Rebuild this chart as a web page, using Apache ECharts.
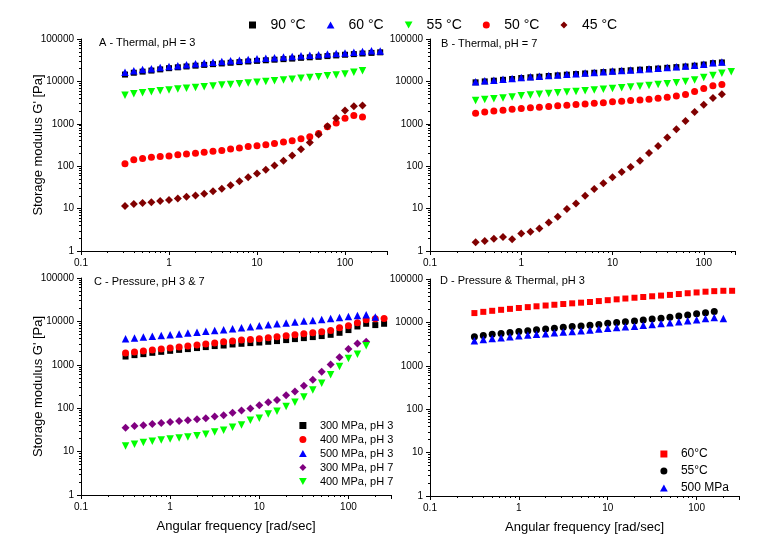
<!DOCTYPE html>
<html><head><meta charset="utf-8">
<script src="https://cdn.jsdelivr.net/npm/echarts@6/dist/echarts.min.js"></script>
<style>html,body{margin:0;padding:0;background:#fff}#c{width:774px;height:550px}</style>
</head><body><div id="c"></div>
<script>
// Angular frequency points [rad/sec]
const freq = [0.316, 0.398, 0.501, 0.631, 0.794, 1, 1.26, 1.58, 2, 2.51, 3.16, 3.98, 5.01, 6.31, 7.94, 10, 12.6, 15.8, 20, 25.1, 31.6, 39.8, 50.1, 63.1, 79.4, 100, 126, 158, 200, 251];

// Panel A - Thermal, pH = 3
const A_90 = [14500, 16000, 17000, 18000, 19200, 20500, 21500, 22500, 23500, 24500, 25500, 26500, 27500, 28500, 29500, 30500, 31500, 32500, 33500, 34500, 36000, 37000, 38000, 39500, 41000, 42500, 44000, 45500, 47000, 48500];
const A_60 = [16500, 17800, 19000, 20000, 21300, 22500, 23500, 24800, 26000, 27200, 28300, 29500, 30500, 31600, 32800, 34000, 35200, 36300, 37500, 38700, 40000, 41300, 42500, 44000, 45500, 47000, 49000, 51000, 53000, 52000];
const A_55 = [4700, 5100, 5400, 5700, 6000, 6300, 6600, 6900, 7200, 7500, 7800, 8200, 8500, 8800, 9200, 9600, 10000, 10400, 10800, 11300, 11800, 12300, 12900, 13500, 14200, 15000, 16500, 17800];
const A_50 = [114, 142, 152, 163, 170, 175, 187, 195, 203, 213, 225, 235, 255, 270, 290, 305, 320, 345, 370, 400, 445, 495, 590, 850, 1050, 1350, 1580, 1450];
const A_45 = [11.5, 12.8, 13.5, 14.2, 15.2, 16, 17.3, 19, 20.5, 22.5, 25.5, 29.5, 35.5, 44, 55, 67, 82, 104, 134, 180, 250, 360, 560, 870, 1350, 2050, 2600, 2700];

// Panel B - Thermal, pH = 7
const B_90 = [9500, 10000, 10400, 10900, 11400, 12000, 12500, 12900, 13400, 13900, 14400, 14900, 15400, 16000, 16600, 17100, 17700, 18300, 18900, 19500, 20100, 20900, 21700, 22500, 23500, 25000, 27000, 28000];
const B_60 = [9800, 10300, 10700, 11200, 11700, 12300, 12800, 13200, 13700, 14200, 14700, 15200, 15700, 16300, 16900, 17500, 18000, 18600, 19200, 19800, 20500, 21300, 22200, 23000, 24000, 25500, 27500, 28500];
const B_55 = [3550, 3750, 3900, 4050, 4300, 4600, 4750, 4950, 5150, 5400, 5600, 5800, 6050, 6300, 6550, 6800, 7050, 7350, 7700, 8000, 8400, 8800, 9300, 10000, 10800, 12300, 13800, 15500, 17000];
const B_50 = [1780, 1900, 2000, 2100, 2200, 2300, 2380, 2450, 2550, 2650, 2750, 2850, 2950, 3050, 3150, 3300, 3400, 3550, 3650, 3800, 4000, 4200, 4500, 4900, 5800, 6800, 7900, 8400];
const B_45 = [1.6, 1.72, 1.95, 2.15, 1.9, 2.6, 2.85, 3.4, 4.7, 6.4, 9.8, 13.2, 20, 29, 39.5, 55, 73, 96, 135, 205, 300, 475, 740, 1170, 1900, 2800, 4050, 5000];

// Panel C - Pressure, pH 3 & 7
const C_300p3 = [1550, 1670, 1760, 1890, 1990, 2100, 2210, 2300, 2430, 2560, 2700, 2780, 2940, 3050, 3160, 3260, 3390, 3520, 3710, 3910, 4120, 4350, 4590, 4910, 5460, 6310, 7640, 8820, 8220, 8820];
const C_400p3 = [1860, 1960, 2070, 2180, 2300, 2430, 2580, 2700, 2850, 3000, 3200, 3390, 3520, 3710, 3830, 3970, 4190, 4420, 4660, 4910, 5180, 5460, 5760, 6170, 7130, 7930, 9300, 10900, 11500, 11700];
const C_500p3 = [3970, 4150, 4350, 4550, 4750, 4950, 5150, 5400, 5650, 5900, 6150, 6410, 6760, 7130, 7520, 7930, 8360, 8820, 9150, 9650, 10180, 10500, 11100, 11700, 12300, 13000, 13700, 14200, 12600];
const C_300p7 = [35.6, 39, 40.5, 43.4, 45.7, 48.2, 50.8, 52.8, 55.7, 58.7, 64, 68.9, 79, 88, 98, 117, 137, 155, 200, 242, 327, 450, 689, 1020, 1500, 2300, 3100, 3390];
const C_400p7 = [13.5, 14.8, 16.1, 17.3, 18.5, 19.5, 20.6, 21.7, 23.3, 25.1, 28.4, 31, 36.4, 41, 52.8, 58.7, 73.8, 85, 109, 137, 180, 264, 378, 586, 910, 1400, 1760, 2740];

// Panel D - Pressure & Thermal, pH 3
const D_60 = [16400, 17500, 18500, 19500, 20500, 21500, 22500, 23500, 24500, 25500, 26500, 27500, 28500, 29500, 31000, 32500, 34000, 35500, 37000, 38500, 40000, 41500, 43000, 45000, 47000, 49000, 51000, 52500, 53500, 53500];
const D_55 = [4700, 5000, 5300, 5550, 5850, 6150, 6450, 6750, 7050, 7350, 7700, 8000, 8300, 8650, 9000, 9500, 9900, 10300, 10800, 11300, 11900, 12500, 13200, 14000, 14800, 15800, 16700, 17800];
const D_500 = [3800, 4050, 4250, 4450, 4650, 4900, 5100, 5300, 5500, 5750, 6000, 6200, 6400, 6700, 7000, 7300, 7600, 7900, 8200, 8600, 9000, 9400, 9800, 10300, 10900, 11500, 12300, 13000, 12300];

const legendTop = ['90 °C', '60 °C', '55 °C', '50 °C', '45 °C'];
const legendC = ['300 MPa, pH 3', '400 MPa, pH 3', '500 MPa, pH 3', '300 MPa, pH 7', '400 MPa, pH 7'];
const legendD = ['60°C', '55°C', '500 MPa'];
const panelTitles = ['A - Thermal, pH = 3', 'B - Thermal, pH = 7', 'C - Pressure, pH 3 & 7', 'D - Pressure & Thermal, pH 3'];
const yName = "Storage modulus G' [Pa]";
const xName = 'Angular frequency [rad/sec]';

const FONT = "'Liberation Sans', Arial, sans-serif";
const SYM = {
  sq: {symbol: 'rect', size: 6, icon: 'path://M0,0L10,0L10,10L0,10Z'},
  ci: {symbol: 'circle', size: 7, icon: 'path://M5,0A5,5 0 1,1 5,10A5,5 0 1,1 5,0Z'},
  tr: {symbol: 'triangle', size: 7.5, icon: 'path://M5,0L10,9L0,9Z'},
  dt: {symbol: 'path://M0,0L10,0L5,9Z', size: 7.5, icon: 'path://M0,0L10,0L5,9Z'},
  di: {symbol: 'diamond', size: 8, icon: 'path://M5,0L10,5L5,10L0,5Z'}
};
function pts(vals){ return vals.map((v, i) => [freq[i], v]); }
function ser(name, vals, grid, sym, color){
  return {
    type: 'scatter', name: name, xAxisIndex: grid, yAxisIndex: grid,
    data: pts(vals), symbol: SYM[sym].symbol, symbolSize: SYM[sym].size,
    itemStyle: {color: color, opacity: 1}, emphasis: {disabled: true}, animation: false
  };
}
function isPow10(v){ const l = Math.log10(v); return Math.abs(l - Math.round(l)) < 1e-6; }
const labelFmt = v => isPow10(v) ? String(+(+v).toPrecision(6)) : '';

const grids = [
  {left: 81, top: 39, width: 306, height: 212},
  {left: 430, top: 39, width: 305, height: 212},
  {left: 81, top: 278, width: 310, height: 217},
  {left: 430, top: 279, width: 309, height: 217}
];
const xMax = [300, 220, 300, 300];

const axisCommon = {
  type: 'log', logBase: 10,
  axisLine: {show: true, onZero: false, lineStyle: {color: '#000', width: 1}},
  axisTick: {show: true, length: 4, lineStyle: {color: '#000'}},
  minorTick: {show: true, splitNumber: 9, length: 2, lineStyle: {color: '#000'}},
  splitLine: {show: false}, minorSplitLine: {show: false},
  axisLabel: {color: '#000', fontSize: 10, fontFamily: FONT, formatter: labelFmt, margin: 7},
  nameTextStyle: {color: '#000', fontSize: 13, fontFamily: FONT}
};
const xAxes = grids.map((g, i) => Object.assign({}, axisCommon, {
  gridIndex: i, min: 0.1, max: xMax[i],
  name: i >= 2 ? xName : '', nameLocation: 'middle', nameGap: 25
}));
const yAxes = grids.map((g, i) => Object.assign({}, axisCommon, {
  gridIndex: i, min: 1, max: 100000,
  name: (i % 2 === 0) ? yName : '', nameLocation: 'middle', nameGap: 36, nameMoveOverlap: false
}));

const specTop = [['sq', '#000000'], ['tr', '#0000ff'], ['dt', '#00ff00'], ['ci', '#ff0000'], ['di', '#800000']];
const specC = [['sq', '#000000'], ['ci', '#ff0000'], ['tr', '#0000ff'], ['di', '#800080'], ['dt', '#00ff00']];
const specD = [['sq', '#ff0000'], ['ci', '#000000'], ['tr', '#0000ff']];

const series = [
  ser(legendTop[0], A_90, 0, ...specTop[0]),
  ser(legendTop[1], A_60, 0, ...specTop[1]),
  ser(legendTop[2], A_55, 0, ...specTop[2]),
  ser(legendTop[3], A_50, 0, ...specTop[3]),
  ser(legendTop[4], A_45, 0, ...specTop[4]),
  ser(legendTop[0], B_90, 1, ...specTop[0]),
  ser(legendTop[1], B_60, 1, ...specTop[1]),
  ser(legendTop[2], B_55, 1, ...specTop[2]),
  ser(legendTop[3], B_50, 1, ...specTop[3]),
  ser(legendTop[4], B_45, 1, ...specTop[4]),
  ser(legendC[0], C_300p3, 2, ...specC[0]),
  ser(legendC[1], C_400p3, 2, ...specC[1]),
  ser(legendC[2], C_500p3, 2, ...specC[2]),
  ser(legendC[3], C_300p7, 2, ...specC[3]),
  ser(legendC[4], C_400p7, 2, ...specC[4]),
  ser(legendD[0], D_60, 3, ...specD[0]),
  ser(legendD[1], D_55, 3, ...specD[1]),
  ser(legendD[2], D_500, 3, ...specD[2])
];

function legendData(names, specs){
  return names.map((n, i) => ({name: n, icon: SYM[specs[i][0]].icon}));
}

const titleStyle = {color: '#000', fontSize: 11, fontWeight: 'normal', fontFamily: FONT};
const titlePos = [[99, 37], [441, 38], [94, 276], [440, 275]];

const chart = echarts.init(document.getElementById('c'), null, {renderer: 'canvas'});
chart.setOption({
  backgroundColor: '#ffffff',
  animation: false,
  title: panelTitles.map((t, i) => ({text: t, left: titlePos[i][0], top: titlePos[i][1], padding: 0, textStyle: titleStyle})),
  legend: [
    {data: legendData(legendTop, specTop), left: 249, top: 18, padding: 0, itemWidth: 26, itemHeight: 7, itemGap: 21,
     symbolKeepAspect: true, selectedMode: false, textStyle: {color: '#000', fontSize: 14, fontFamily: FONT}},
    {data: legendData(legendC, specC), orient: 'vertical', left: 299, top: 419, padding: 0, itemWidth: 24, itemHeight: 7, itemGap: 1,
     symbolKeepAspect: true, selectedMode: false, textStyle: {color: '#000', fontSize: 11, fontFamily: FONT, lineHeight: 13}},
    {data: legendData(legendD, specD), orient: 'vertical', left: 660, top: 447, padding: 0, itemWidth: 24, itemHeight: 7, itemGap: 3,
     symbolKeepAspect: true, selectedMode: false, textStyle: {color: '#000', fontSize: 12, fontFamily: FONT, lineHeight: 14}}
  ],
  grid: grids,
  xAxis: xAxes,
  yAxis: yAxes,
  series: series
});
</script>
</body></html>
